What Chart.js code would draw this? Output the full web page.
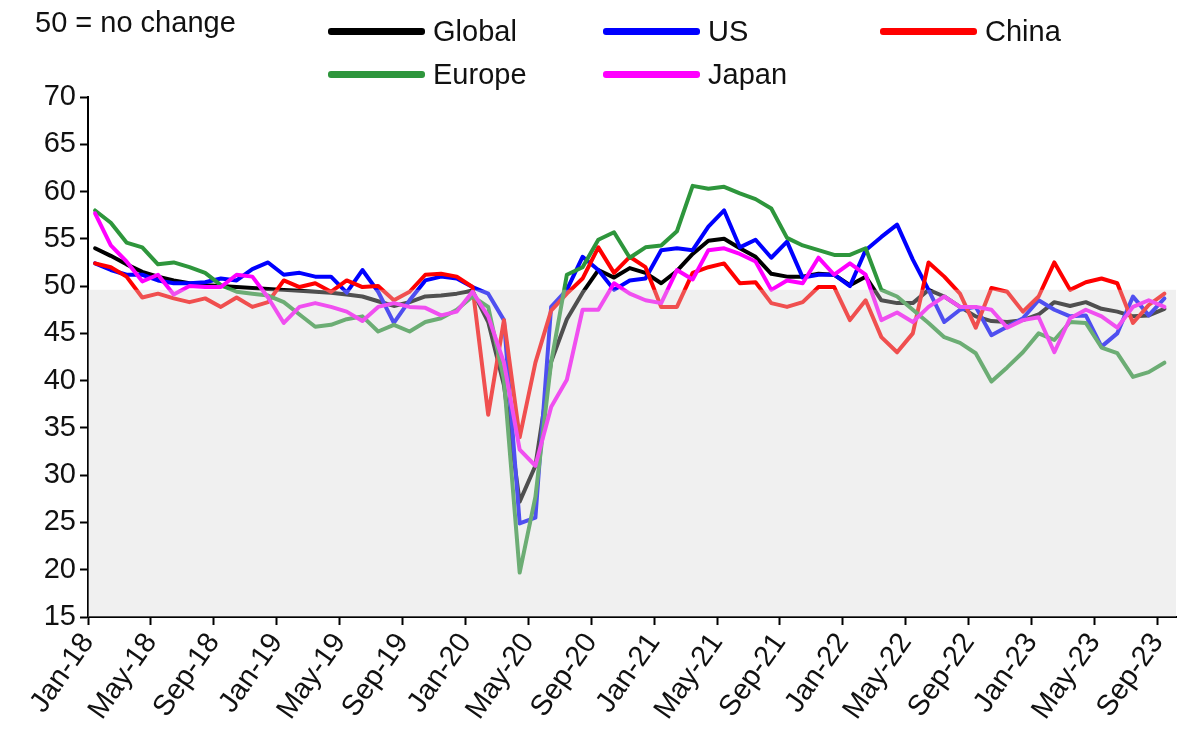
<!DOCTYPE html>
<html>
<head>
<meta charset="utf-8">
<script src="https://cdn.jsdelivr.net/npm/chart.js@4.4.1/dist/chart.umd.min.js"></script>
<style>
  body { margin: 0; background: #fff; font-family: 'Liberation Sans', Arial, sans-serif; color: #111; }
  #wrap { position: relative; width: 1188px; height: 737px; overflow: hidden; }
  #pmiChart { position: absolute; left: 0; top: 0; }
  .note { position: absolute; left: 35px; top: 6px; font-size: 29px; line-height: 32px; }
  .leg { position: absolute; height: 32px; display: flex; align-items: center; font-size: 29px; white-space: nowrap; }
  .leg i { display: inline-block; width: 97px; height: 7px; margin-right: 8px; border-radius: 3px; }
</style>
</head>
<body>
<div id="wrap">
  <canvas id="pmiChart" width="1188" height="737"></canvas>
  <div class="note">50 = no change</div>
  <div id="legend"></div>
</div>
<script>
// monthly readings, Jan-18 .. Sep-23
const global = [54.0,53.2,52.3,51.5,51.0,50.6,50.3,50.1,50.0,49.9,49.8,49.7,
                49.6,49.5,49.4,49.3,49.1,48.9,48.4,47.9,48.3,48.9,49.0,49.2,
                49.5,46.2,39.5,27.2,31.0,42.0,46.5,49.3,51.7,50.9,51.9,51.4,
                50.3,51.6,53.4,54.8,55.0,54.0,53.1,51.3,51.0,51.0,51.3,51.2,
                50.1,51.0,48.5,48.2,48.2,49.6,48.9,47.8,46.8,46.3,46.2,46.4,
                47.0,48.3,47.9,48.3,47.6,47.3,46.8,46.9,47.6];
const us     = [52.4,51.7,51.2,51.2,50.6,50.3,50.3,50.4,50.8,50.6,51.8,52.5,
                51.2,51.4,51.0,51.0,49.3,51.7,49.4,46.1,48.5,50.6,51.0,50.8,
                49.9,49.2,46.4,24.9,25.5,47.8,49.6,53.1,51.7,49.6,50.6,50.8,
                53.8,54.0,53.8,56.3,58.0,54.1,54.9,53.0,54.7,50.9,51.2,51.2,
                50.0,53.8,55.2,56.5,52.8,49.6,46.2,47.5,47.8,44.8,45.7,46.6,
                48.5,47.5,46.8,46.9,43.6,45.0,48.9,46.9,48.7];
const china  = [52.4,52.0,51.0,48.8,49.2,48.7,48.3,48.7,47.8,48.8,47.8,48.3,
                50.6,49.9,50.3,49.4,50.6,49.9,50.0,48.5,49.4,51.2,51.3,51.0,
                49.9,36.4,46.4,34.0,41.9,47.4,49.2,50.8,54.1,51.4,53.1,52.0,
                47.8,47.8,51.4,52.0,52.4,50.3,50.4,48.2,47.8,48.3,49.9,49.9,
                46.4,48.5,44.6,43.0,45.0,52.5,51.0,49.2,45.6,49.8,49.4,47.3,
                48.9,52.5,49.6,50.4,50.8,50.3,46.1,48.0,49.2];
const europe = [58.0,56.7,54.6,54.1,52.3,52.5,52.0,51.4,50.1,49.4,49.2,49.0,
                48.3,47.0,45.7,45.9,46.5,46.8,45.2,45.9,45.2,46.2,46.6,47.5,
                48.9,47.8,40.1,19.7,27.7,41.9,51.2,52.0,54.9,55.7,53.0,54.1,
                54.3,55.8,60.6,60.3,60.5,59.8,59.2,58.2,55.1,54.3,53.8,53.3,
                53.3,54.0,49.6,48.9,47.5,46.1,44.6,44.0,42.9,39.9,41.4,43.0,
                45.0,44.3,46.2,46.1,43.5,42.9,40.4,40.9,41.9];
const japan  = [57.7,54.3,52.6,50.5,51.2,49.1,50.0,49.9,49.9,51.2,51.0,48.8,
                46.1,47.8,48.2,47.8,47.3,46.3,47.8,48.2,47.8,47.7,46.9,47.3,
                49.4,46.8,41.9,32.7,31.0,37.2,40.1,47.5,47.5,50.3,49.2,48.5,
                48.2,51.7,50.7,53.8,54.0,53.4,52.6,49.6,50.6,50.3,53.0,51.2,
                52.4,51.2,46.4,47.2,46.2,47.8,48.9,47.8,47.8,47.5,45.6,46.4,
                46.7,43.0,46.6,47.5,46.8,45.6,47.8,48.5,47.8];

const TICK_LABELS = ['Jan-18','May-18','Sep-18','Jan-19','May-19','Sep-19','Jan-20','May-20','Sep-20',
                     'Jan-21','May-21','Sep-21','Jan-22','May-22','Sep-22','Jan-23','May-23','Sep-23'];
const TICK_STEP = 4;      // months between labels
const MID_MONTH = 0.45;   // readings sit mid-month, ticks at start of month
const X_MAX = 69.2;
const SHADE_TOP = 49.6;   // grey band below 50

const SERIES = [
    { name: 'Global', data: global, color: '#000000', legend: [328, 31] },
    { name: 'US',     data: us,     color: '#0000ff', legend: [603, 31] },
    { name: 'China',  data: china,  color: '#ff0000', legend: [880, 31] },
    { name: 'Europe', data: europe, color: '#2e963c', legend: [328, 74] },
    { name: 'Japan',  data: japan,  color: '#ff00ff', legend: [603, 74] }
];

const FONT = "'Liberation Sans', Arial, sans-serif";
Chart.defaults.font.family = FONT;
Chart.defaults.color = '#111';

// legend (html)
const legendBox = document.getElementById('legend');
SERIES.forEach(s => {
    const el = document.createElement('div');
    el.className = 'leg';
    el.style.left = s.legend[0] + 'px';
    el.style.top = (s.legend[1] - 16) + 'px';
    el.innerHTML = `<i style="background:${s.color}"></i>${s.name}`;
    legendBox.appendChild(el);
});

const lineSets = SERIES.map((s, k) => ({
    label: s.name,
    data: s.data.map((v, i) => ({ x: i + MID_MONTH, y: v })),
    borderColor: s.color,
    borderWidth: 4,
    pointRadius: 0,
    tension: 0,
    fill: false,
    borderJoinStyle: 'round',
    borderCapStyle: 'round',
    order: SERIES.length - k   // Japan on top, like the source
}));

// translucent band laid over the lines below 50
const shade = {
    label: 'shade',
    data: [{ x: 0, y: SHADE_TOP }, { x: X_MAX, y: SHADE_TOP }],
    borderWidth: 0,
    pointRadius: 0,
    fill: 'start',
    backgroundColor: 'rgba(215,215,215,0.37)',
    order: 0
};

new Chart(document.getElementById('pmiChart').getContext('2d'), {
    type: 'line',
    data: { datasets: [...lineSets, shade] },
    options: {
        responsive: false,
        animation: false,
        devicePixelRatio: 1,
        layout: { padding: { top: 97, right: 8, left: 0, bottom: 0 } },
        plugins: { legend: { display: false }, tooltip: { enabled: false } },
        scales: {
            x: {
                type: 'linear',
                min: 0,
                max: X_MAX,
                afterFit: sc => { sc.height = 120; },
                afterBuildTicks: sc => { sc.ticks = TICK_LABELS.map((_, k) => ({ value: k * TICK_STEP })); },
                grid: { drawOnChartArea: false, drawTicks: true, tickLength: 8, color: '#000', tickWidth: 2 },
                border: { color: '#000', width: 2 },
                ticks: {
                    minRotation: 55, maxRotation: 55, padding: 2, autoSkip: false,
                    font: { size: 29 }, color: '#111',
                    callback: v => TICK_LABELS[Math.round(v / TICK_STEP)]
                }
            },
            y: {
                min: 15,
                max: 70,
                afterFit: sc => { sc.width = 88; },
                grid: { drawOnChartArea: false, drawTicks: true, tickLength: 8, color: '#000', tickWidth: 2 },
                border: { color: '#000', width: 2 },
                ticks: { stepSize: 5, padding: 4, font: { size: 29 }, color: '#111' }
            }
        }
    }
});
</script>
</body>
</html>
